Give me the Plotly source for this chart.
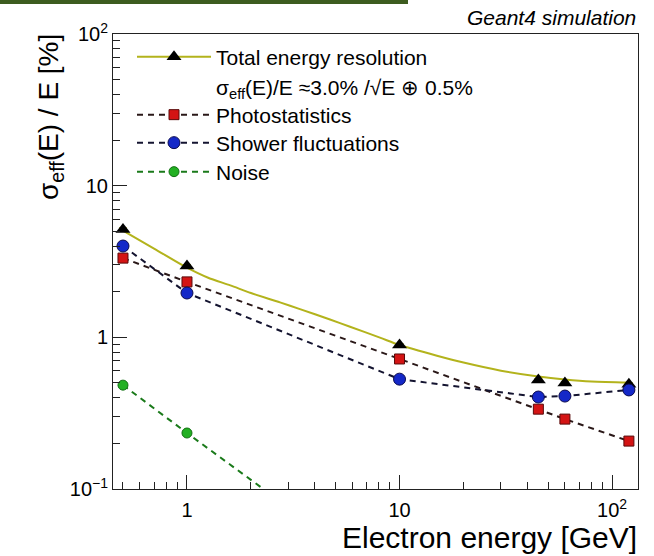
import plotly.graph_objects as go

# Beam energies of the simulated points [GeV]
energy = [0.5, 1, 10, 45, 60, 120]

# Relative resolution contributions [%]
total_res = [5.15, 2.95, 0.89, 0.523, 0.50, 0.49]
photostat = [3.33, 2.32, 0.72, 0.336, 0.289, 0.207]
shower = [4.0, 1.96, 0.53, 0.404, 0.41, 0.45]
noise = [0.484, 0.234, 0.022, 0.0053, 0.004, 0.002]

# Fitted resolution curve, sampled along the energy range
fit_energy = [0.5, 0.7, 1, 1.25, 1.6, 2.0, 2.74, 3.4, 4.71, 5.85, 8.09,
              10, 15, 20, 30, 45, 60, 80, 120]
fit_res = [5.05, 3.85, 2.88, 2.48, 2.2, 1.96, 1.70, 1.535, 1.31, 1.175, 0.995,
           0.89, 0.757, 0.682, 0.603, 0.552, 0.528, 0.512, 0.504]

fit_label = "σ<sub>eff</sub>(E)/E ≈3.0% /√E ⊕ 0.5%"

x_major = [1, 10, 100]
x_major_text = ["1", "10", "10<sup>2</sup>"]
y_major = [0.1, 1, 10, 100]
y_major_text = ["10<sup>−1</sup>", "1", "10", "10<sup>2</sup>"]

FONT = "Liberation Sans, Arial, Helvetica, sans-serif"
OLIVE = "#b3b31c"

# plot-area geometry in pixels
W, H = 654, 556
ML, MR, MT, MB = 113, 16, 34, 67
PW, PH = W - ML - MR, H - MT - MB


def px_to_paper_y(py):
    return 1 - (py - MT) / PH


def px_to_paper_x(px):
    return (px - ML) / PW


def minor_vals(lo_exp, hi_exp):
    vals = []
    for e in range(lo_exp, hi_exp + 1):
        for m in range(2, 10):
            vals.append(m * 10 ** e)
    return vals


fig = go.Figure()

# Fitted curve, drawn first so the points sit on top of it
fig.add_trace(go.Scatter(
    x=fit_energy, y=fit_res, mode="lines",
    line=dict(color=OLIVE, width=2, shape="spline", smoothing=0.8),
    showlegend=False, hoverinfo="skip",
))

err = dict(type="percent", value=2, thickness=1.5, width=4)

fig.add_trace(go.Scatter(
    x=energy, y=total_res, mode="markers", name="Total energy resolution",
    marker=dict(symbol="triangle-up", size=13, color="black"),
    error_y=dict(err, color=OLIVE),
    showlegend=False,
))
# legend entry: line + marker for the total resolution
fig.add_trace(go.Scatter(
    x=[None], y=[None], mode="lines+markers", name="Total energy resolution",
    marker=dict(symbol="triangle-up", size=13, color="black"),
    line=dict(color=OLIVE, width=2),
    error_y=dict(err, color=OLIVE),
    legend="legend",
))
fig.add_trace(go.Scatter(
    x=[None], y=[None], mode="lines", name=fit_label,
    line=dict(color="rgba(0,0,0,0)", width=0),
    legend="legend2",
))
fig.add_trace(go.Scatter(
    x=energy, y=photostat, mode="lines+markers", name="Photostatistics",
    marker=dict(symbol="square", size=10, color="#d41414",
                line=dict(color="#5a0a0a", width=1)),
    line=dict(color="#2a1818", width=2, dash="6px,5px"),
    error_y=dict(err, color="#2a1818"),
    legend="legend3",
))
fig.add_trace(go.Scatter(
    x=energy, y=shower, mode="lines+markers", name="Shower fluctuations",
    marker=dict(symbol="circle", size=12, color="#1428c8",
                line=dict(color="#0a0a50", width=1)),
    line=dict(color="#141430", width=2, dash="6px,5px"),
    error_y=dict(err, color="#141430"),
    legend="legend4",
))
fig.add_trace(go.Scatter(
    x=energy, y=noise, mode="lines+markers", name="Noise",
    marker=dict(symbol="circle", size=10, color="#22b022",
                line=dict(color="#127012", width=1)),
    line=dict(color="#1a7a1a", width=2, dash="6px,5px"),
    error_y=dict(err, color="#1a7a1a"),
    legend="legend5",
))

axis_common = dict(
    type="log", showgrid=False, zeroline=False,
    showline=True, linecolor="#222222", linewidth=1, mirror=True,
    ticks="inside", ticklen=14, tickwidth=1, tickcolor="#222222",
    tickfont=dict(family=FONT, size=20, color="black"),
)

fig.update_xaxes(
    axis_common, range=[-0.348, 2.122],
    tickmode="array", tickvals=x_major, ticktext=x_major_text,
    ticklabelstandoff=3,
    minor=dict(ticks="inside", ticklen=7, tickcolor="#222222",
               tickvals=minor_vals(-1, 2), showgrid=False),
)
fig.update_yaxes(
    axis_common, range=[-1, 2],
    tickmode="array", tickvals=y_major, ticktext=y_major_text,
    minor=dict(ticks="inside", ticklen=7, tickcolor="#222222",
               tickvals=minor_vals(-1, 1), showgrid=False),
)

# one legend box per row so the row spacing can be set freely
legend_rows_px = [57, 87, 115, 143, 172]
legend_style = dict(
    xanchor="left", yanchor="middle",
    bgcolor="rgba(255,255,255,0)", borderwidth=0,
    font=dict(family=FONT, size=21, color="black"),
    itemwidth=74,
)
legends = {}
for i, row in enumerate(legend_rows_px):
    key = "legend" if i == 0 else f"legend{i + 1}"
    legends[key] = dict(legend_style, x=px_to_paper_x(132),
                        y=px_to_paper_y(row))

fig.update_layout(
    width=W, height=H,
    margin=dict(l=ML, r=MR, t=MT, b=MB),
    paper_bgcolor="white", plot_bgcolor="white",
    font=dict(family=FONT, color="black"),
    shapes=[dict(
        type="rect", xref="paper", yref="paper",
        x0=px_to_paper_x(0), x1=px_to_paper_x(408),
        y0=px_to_paper_y(4), y1=px_to_paper_y(0),
        fillcolor="#3d5c1f", line=dict(width=0), layer="above",
    )],
    annotations=[
        dict(text="<i>Geant4 simulation</i>", xref="paper", yref="paper",
             x=px_to_paper_x(638), y=px_to_paper_y(18),
             xanchor="right", yanchor="middle",
             showarrow=False, font=dict(family=FONT, size=21, color="black")),
        dict(text="Electron energy [GeV]", xref="paper", yref="paper",
             x=px_to_paper_x(639), y=px_to_paper_y(537),
             xanchor="right", yanchor="middle",
             showarrow=False, font=dict(family=FONT, size=30, color="black")),
        dict(text="σ<sub>eff</sub>(E) / E [%]", xref="paper", yref="paper",
             x=px_to_paper_x(50), y=px_to_paper_y(32),
             xanchor="center", yanchor="top",
             textangle=-90, showarrow=False,
             font=dict(family=FONT, size=28, color="black")),
    ],
)
fig.update_layout(**legends)

fig.write_html("out.html")
